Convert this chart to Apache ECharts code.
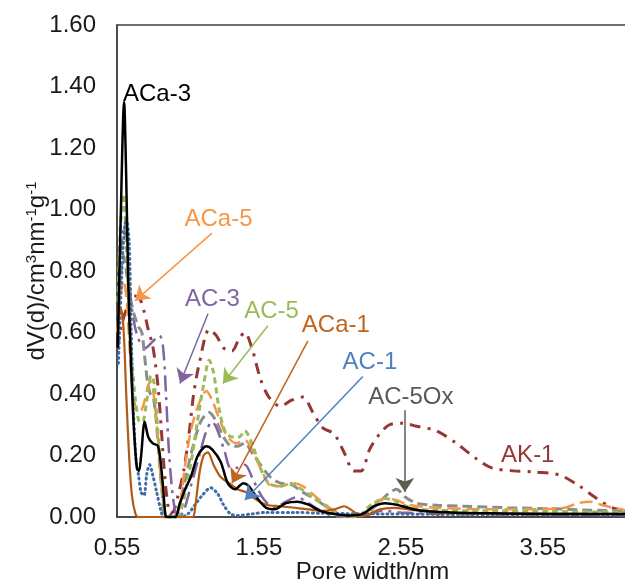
<!DOCTYPE html>
<html><head><meta charset="utf-8">
<script src="https://cdn.jsdelivr.net/npm/echarts/dist/echarts.min.js"></script>
<style>html,body{margin:0;padding:0;background:#fff}#c{width:625px;height:583px}</style>
</head><body><div id="c"></div>
<script>
// ---- data: [pore width (nm), dV(d) (cm3 nm-1 g-1)] ----
const ACa3 = [[0.555,0.55],[0.575,0.95],[0.6,1.35],[0.615,1.1],[0.63,0.75],[0.65,0.48],[0.67,0.28],[0.69,0.16],[0.705,0.15],[0.72,0.2],[0.745,0.31],[0.77,0.26],[0.8,0.24],[0.84,0.23],[0.87,0.12],[0.89,0.01],[0.9,0],[0.96,0],[0.99,0.04],[1.03,0.09],[1.07,0.13],[1.12,0.2],[1.18,0.23],[1.22,0.22],[1.28,0.18],[1.33,0.11],[1.38,0.09],[1.44,0.11],[1.48,0.1],[1.54,0.06],[1.6,0.03],[1.66,0.025],[1.74,0.045],[1.82,0.05],[1.9,0.04],[1.98,0.02],[2.08,0.01],[2.2,0.005],[2.28,0.01],[2.36,0.035],[2.44,0.045],[2.52,0.04],[2.6,0.03],[2.7,0.02],[2.9,0.015],[3.2,0.012],[3.6,0.01],[4.15,0.01]];
const ACa5 = [[0.55,0.6],[0.57,0.7],[0.595,0.77],[0.615,0.72],[0.63,0.62],[0.645,0.5],[0.66,0.42],[0.68,0.36],[0.71,0.34],[0.74,0.37],[0.77,0.43],[0.79,0.44],[0.81,0.39],[0.83,0.3],[0.855,0.15],[0.88,0.04],[0.9,0],[0.96,0],[0.99,0.03],[1.03,0.17],[1.07,0.28],[1.12,0.36],[1.18,0.41],[1.22,0.38],[1.27,0.32],[1.33,0.26],[1.39,0.24],[1.45,0.25],[1.5,0.22],[1.57,0.15],[1.64,0.1],[1.71,0.1],[1.78,0.11],[1.86,0.1],[1.94,0.07],[2.02,0.04],[2.1,0.015],[2.2,0.003],[2.28,0.005],[2.36,0.04],[2.44,0.06],[2.52,0.055],[2.6,0.04],[2.8,0.03],[3.2,0.025],[3.5,0.025],[3.7,0.03],[3.8,0.045],[3.88,0.05],[3.96,0.04],[4.05,0.03],[4.15,0.02]];
const AC3 = [[0.555,0.65],[0.575,0.85],[0.6,0.95],[0.63,0.8],[0.66,0.66],[0.7,0.58],[0.75,0.55],[0.8,0.57],[0.85,0.59],[0.875,0.55],[0.895,0.4],[0.915,0.22],[0.94,0.08],[0.965,0.01],[0.985,0],[1.02,0.02],[1.07,0.1],[1.13,0.2],[1.18,0.28],[1.22,0.31],[1.26,0.28],[1.31,0.21],[1.35,0.16],[1.4,0.16],[1.45,0.17],[1.51,0.12],[1.58,0.06],[1.66,0.03],[1.74,0.05],[1.82,0.065],[1.88,0.05],[1.95,0.03],[2.03,0.01],[2.12,0],[2.3,0.005],[2.42,0.02],[2.55,0.015],[2.8,0.01],[3.5,0.008],[4.15,0.006]];
const AC5 = [[0.555,0.7],[0.575,0.95],[0.595,1.05],[0.61,0.95],[0.625,0.78],[0.64,0.62],[0.66,0.48],[0.68,0.38],[0.71,0.31],[0.73,0.31],[0.76,0.38],[0.79,0.46],[0.81,0.44],[0.83,0.33],[0.85,0.2],[0.875,0.06],[0.895,0],[0.97,0],[1.0,0.02],[1.04,0.1],[1.08,0.2],[1.12,0.32],[1.16,0.43],[1.2,0.51],[1.23,0.47],[1.27,0.35],[1.31,0.28],[1.36,0.26],[1.41,0.26],[1.45,0.28],[1.5,0.24],[1.56,0.16],[1.62,0.11],[1.7,0.1],[1.77,0.11],[1.85,0.09],[1.93,0.065],[2.02,0.035],[2.1,0.01],[2.18,0],[2.26,0.005],[2.34,0.04],[2.44,0.06],[2.52,0.05],[2.62,0.03],[2.8,0.022],[3.2,0.02],[3.6,0.018],[4.15,0.015]];
const ACa1 = [[0.555,0.62],[0.575,0.68],[0.595,0.62],[0.615,0.4],[0.635,0.2],[0.655,0.07],[0.68,0.01],[0.7,0],[1.08,0],[1.1,0.03],[1.13,0.14],[1.16,0.2],[1.19,0.21],[1.23,0.17],[1.28,0.13],[1.34,0.11],[1.4,0.09],[1.46,0.08],[1.52,0.06],[1.6,0.04],[1.7,0.035],[1.8,0.03],[1.9,0.025],[2.0,0.02],[2.08,0.025],[2.15,0.035],[2.21,0.02],[2.27,0.004],[2.33,0.01],[2.4,0.025],[2.5,0.03],[2.6,0.025],[2.8,0.015],[3.2,0.012],[4.15,0.01]];
const AC1 = [[0.56,0.5],[0.59,0.85],[0.615,0.97],[0.635,0.9],[0.65,0.6],[0.665,0.35],[0.685,0.18],[0.7,0.14],[0.72,0.08],[0.74,0.07],[0.76,0.14],[0.78,0.17],[0.8,0.14],[0.83,0.08],[0.86,0.02],[0.88,0],[1.0,0],[1.05,0.01],[1.1,0.04],[1.15,0.07],[1.21,0.095],[1.26,0.075],[1.3,0.04],[1.35,0.01],[1.4,0.005],[1.5,0.01],[1.6,0.015],[1.8,0.015],[2.0,0.012],[2.4,0.01],[3.0,0.008],[4.15,0.006]];
const AC5Ox = [[0.555,0.6],[0.575,0.78],[0.595,0.85],[0.615,0.8],[0.64,0.72],[0.67,0.66],[0.7,0.62],[0.725,0.6],[0.745,0.52],[0.765,0.44],[0.785,0.4],[0.805,0.39],[0.825,0.32],[0.845,0.2],[0.87,0.07],[0.89,0],[0.96,0],[0.99,0.04],[1.03,0.12],[1.08,0.22],[1.14,0.31],[1.2,0.34],[1.25,0.31],[1.3,0.26],[1.36,0.23],[1.4,0.23],[1.45,0.24],[1.5,0.21],[1.56,0.17],[1.63,0.13],[1.7,0.11],[1.78,0.105],[1.86,0.08],[1.94,0.06],[2.02,0.035],[2.1,0.015],[2.2,0.003],[2.3,0.01],[2.38,0.04],[2.46,0.075],[2.52,0.09],[2.58,0.065],[2.66,0.045],[2.8,0.038],[3.0,0.035],[3.3,0.03],[3.6,0.027],[3.9,0.022],[4.15,0.02]];
const AK1 = [[0.555,0.55],[0.58,0.62],[0.62,0.68],[0.67,0.72],[0.71,0.71],[0.74,0.67],[0.77,0.61],[0.8,0.56],[0.82,0.5],[0.84,0.42],[0.86,0.3],[0.88,0.17],[0.9,0.07],[0.925,0.01],[0.95,0.02],[0.98,0.07],[1.02,0.15],[1.06,0.28],[1.09,0.4],[1.13,0.5],[1.2,0.61],[1.25,0.59],[1.3,0.55],[1.36,0.54],[1.41,0.58],[1.45,0.6],[1.5,0.55],[1.56,0.45],[1.62,0.39],[1.7,0.36],[1.78,0.38],[1.86,0.39],[1.93,0.34],[2.0,0.29],[2.08,0.27],[2.15,0.21],[2.22,0.15],[2.27,0.15],[2.33,0.22],[2.4,0.27],[2.47,0.3],[2.56,0.305],[2.66,0.295],[2.8,0.28],[2.94,0.24],[3.08,0.19],[3.19,0.16],[3.34,0.15],[3.51,0.146],[3.67,0.136],[3.81,0.1],[3.93,0.06],[4.04,0.03],[4.15,0.02]];

const xTickStart = 0.55, xTickStep = 1, xMax = 4.15;
const yMax = 1.6, yStep = 0.2;

// annotations: text centre and arrow (from -> to) in data units
const notes = [
  {name:'ACa-3', pos:[0.832,1.376], arrow:null},
  {name:'ACa-5', pos:[1.265,0.968], arrow:[[1.219,0.923],[0.677,0.703]]},
  {name:'AC-3',  pos:[1.222,0.709], arrow:[[1.191,0.661],[0.994,0.434]]},
  {name:'AC-5',  pos:[1.639,0.670], arrow:[[1.613,0.622],[1.296,0.434]]},
  {name:'ACa-1', pos:[2.092,0.622], arrow:[[1.895,0.573],[1.36,0.110]]},
  {name:'AC-1',  pos:[2.332,0.502], arrow:[[2.282,0.457],[1.451,0.055]]},
  {name:'AC-5Ox',pos:[2.620,0.389], arrow:[[2.578,0.347],[2.578,0.081]]},
  {name:'AK-1',  pos:[3.444,0.201], arrow:null}
];

const FONT = '"Liberation Sans", Arial, sans-serif';
const seriesDefs = [
  {name:'AK-1',  data:AK1,  color:'#953735', width:3,   type:[11,7,3,7], note:'#953735'},
  {name:'AC-3',  data:AC3,  color:'#8064A2', width:2.5, type:[16,6,3,6], note:'#8064A2'},
  {name:'AC-5Ox',data:AC5Ox,color:'#8C8C8C', width:3,   type:[10,5], note:'#595959', arrowColor:'#5E5E50'},
  {name:'ACa-5', data:ACa5, color:'#F79646', width:2.5, type:[13,6], note:'#F79646'},
  {name:'AC-5',  data:AC5,  color:'#9BBB59', width:3,   type:[6,4], note:'#9BBB59'},
  {name:'AC-1',  data:AC1,  color:'#3E6DA8', width:3,   type:[1,4], cap:'round', note:'#4F81BD'},
  {name:'ACa-1', data:ACa1, color:'#B35A14', width:2.2, type:'solid', note:'#C0651E'},
  {name:'ACa-3', data:ACa3, color:'#000000', width:2.5, type:'solid', note:'#000000'}
];

const chart = echarts.init(document.getElementById('c'), null, {renderer:'canvas'});
const series = seriesDefs.map(d => {
  const n = notes.find(q => q.name === d.name);
  const s = {
    name:d.name, type:'line', data:d.data, showSymbol:false, smooth:0.3,
    lineStyle:{color:d.color, width:d.width, type:d.type, cap:d.cap || 'butt'},
    itemStyle:{color:d.color}, animation:false, silent:true, clip:true
  };
  if (n && n.arrow) {
    s.markLine = {
      silent:true, animation:false, symbol:['none','arrow'], symbolSize:14,
      lineStyle:{color:d.arrowColor || d.note, width:1.5, type:'solid'},
      label:{show:false},
      data:[[{coord:n.arrow[0]},{coord:n.arrow[1]}]]
    };
  }
  return s;
});

chart.setOption({
  backgroundColor:'#fff',
  animation:false,
  grid:{left:117, right:-3, top:25, bottom:66, containLabel:false, outerBoundsMode:'none',
        show:true, borderColor:'#404040', borderWidth:1.5},
  xAxis:{
    type:'value', min:xTickStart, max:xMax, interval:xTickStep,
    name:'Pore width/nm', nameLocation:'middle', nameGap:43, nameMoveOverlap:false,
    nameTextStyle:{fontFamily:FONT, fontSize:24, color:'#1a1a1a'},
    axisLine:{show:true, onZero:false, lineStyle:{color:'#404040', width:1.5}},
    axisTick:{show:false}, splitLine:{show:false},
    axisLabel:{fontFamily:FONT, fontSize:24, color:'#1a1a1a', margin:19, showMaxLabel:false,
      formatter:v => v.toFixed(2)}
  },
  yAxis:{
    type:'value', min:0, max:yMax, interval:yStep,
    name:'{a|dV(d)/cm}{s|3}{a|nm}{s|-1}{a|g}{s|-1}', nameLocation:'middle', nameGap:67, nameMoveOverlap:false,
    nameTextStyle:{fontFamily:FONT, color:'#1a1a1a',
      rich:{a:{fontFamily:FONT, fontSize:24, color:'#1a1a1a', lineHeight:26},
            s:{fontFamily:FONT, fontSize:15, color:'#1a1a1a', verticalAlign:'top', lineHeight:26}}},
    axisLine:{show:true, lineStyle:{color:'#404040', width:1.5}},
    axisTick:{show:false}, splitLine:{show:false},
    axisLabel:{fontFamily:FONT, fontSize:24, color:'#1a1a1a', margin:21,
      formatter:v => v.toFixed(2)}
  },
  series: series
});

// annotation texts placed through the chart's own coordinate conversion
const graphics = notes.map(n => {
  const d = seriesDefs.find(s => s.name === n.name);
  const p = chart.convertToPixel({gridIndex:0}, n.pos);
  return {type:'text', x:p[0], y:p[1], silent:true, z:100,
    style:{text:n.name, fill:d.note, font:'24px ' + FONT, align:'center', verticalAlign:'middle'}};
});
chart.setOption({graphic:graphics});
</script>
</body></html>
